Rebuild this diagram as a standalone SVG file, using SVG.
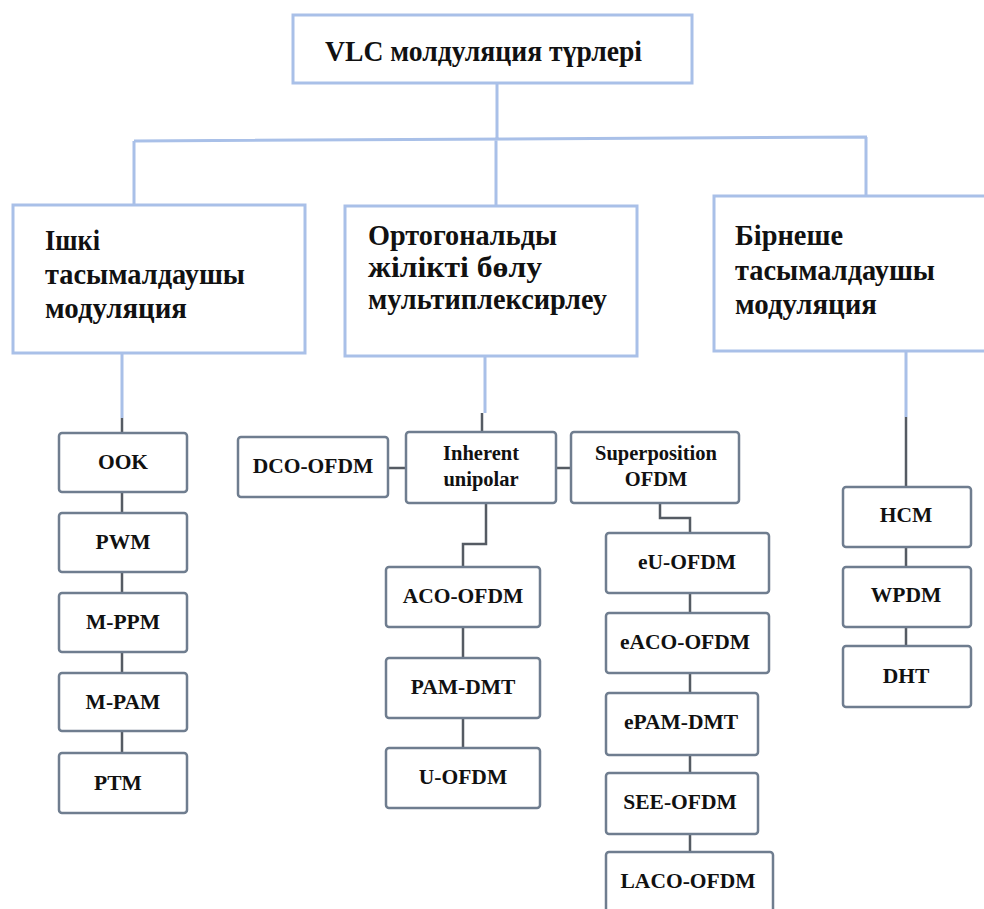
<svg xmlns="http://www.w3.org/2000/svg" width="984" height="909" viewBox="0 0 984 909">
<style>
.big{fill:#fff;stroke:#a9c0e8;stroke-width:3}
.sm{fill:#fff;stroke:#6f7d8f;stroke-width:2.5}
.bl{fill:none;stroke:#a9c0e8;stroke-width:3}
.gr{fill:none;stroke:#555b63;stroke-width:2.5}
.t{font-weight:bold;fill:#111}
.h{font-size:30px}
.s{font-size:21.5px;text-anchor:middle}
.u{font-size:20.5px;text-anchor:middle}
</style>
<rect width="984" height="909" fill="#fff"/>
<g id="connectors">
<path class="bl" d="M497 83V140M134 141L867 137M134 141V205M496 139V206M866 137V196"/>
<path class="bl" d="M122 353V418M485 356V413M906 351V417"/>
<path class="gr" d="M122 418V433M122 492V513M122 572V593M122 652V673M122 731V753"/>
<path class="gr" d="M482 413V432M388 468H406M556 468H571"/>
<path class="gr" d="M486 503V544H463V567M463 627V658M463 718V748"/>
<path class="gr" d="M660 503V518H690V533M690 593V613M690 673V693M690 755V773M690 834V852"/>
<path class="gr" d="M906 417V487M906 547V567M906 627V646"/>
</g>
<g font-family="'Liberation Serif', 'DejaVu Serif', serif">
<g id="n-root"><rect class="big" x="293" y="15" width="399" height="68"/><text class="t h" x="325" y="61" textLength="317" lengthAdjust="spacingAndGlyphs">VLC молдуляция түрлері</text></g>
<g id="n-inner"><rect class="big" x="13" y="205" width="292" height="148"/>
<text class="t h" x="45" y="250" textLength="55" lengthAdjust="spacingAndGlyphs">Ішкі</text>
<text class="t h" x="45" y="284" textLength="200" lengthAdjust="spacingAndGlyphs">тасымалдаушы</text>
<text class="t h" x="45" y="318" textLength="142" lengthAdjust="spacingAndGlyphs">модуляция</text></g>
<g id="n-ofdm"><rect class="big" x="345" y="206" width="292" height="150"/>
<text class="t h" x="368" y="245" textLength="189" lengthAdjust="spacingAndGlyphs">Ортогональды</text>
<text class="t h" x="368" y="277" textLength="174" lengthAdjust="spacingAndGlyphs">жілікті бөлу</text>
<text class="t h" x="368" y="309" textLength="239" lengthAdjust="spacingAndGlyphs">мультиплексирлеу</text></g>
<g id="n-multi"><rect class="big" x="714" y="196" width="290" height="155"/>
<text class="t h" x="735" y="245" textLength="108" lengthAdjust="spacingAndGlyphs">Бірнеше</text>
<text class="t h" x="735" y="280" textLength="200" lengthAdjust="spacingAndGlyphs">тасымалдаушы</text>
<text class="t h" x="735" y="314" textLength="142" lengthAdjust="spacingAndGlyphs">модуляция</text></g>
<g id="n-ook"><rect class="sm" x="59" y="433" width="128" height="59" rx="3"/><text class="t s" x="123" y="469">OOK</text></g>
<g id="n-pwm"><rect class="sm" x="59" y="513" width="128" height="59" rx="3"/><text class="t s" x="123" y="549">PWM</text></g>
<g id="n-mppm"><rect class="sm" x="59" y="593" width="128" height="59" rx="3"/><text class="t s" x="123" y="629">M-PPM</text></g>
<g id="n-mpam"><rect class="sm" x="59" y="673" width="128" height="58" rx="3"/><text class="t s" x="123" y="709">M-PAM</text></g>
<g id="n-ptm"><rect class="sm" x="59" y="753" width="128" height="60" rx="3"/><text class="t s" x="118" y="790">PTM</text></g>
<g id="n-dco"><rect class="sm" x="238" y="437" width="150" height="60" rx="3"/><text class="t s" x="313" y="473">DCO-OFDM</text></g>
<g id="n-inh"><rect class="sm" x="406" y="432" width="150" height="71" rx="3"/><text class="t u" x="481" y="460">Inherent</text><text class="t u" x="481" y="486">unipolar</text></g>
<g id="n-sup"><rect class="sm" x="571" y="432" width="168" height="71" rx="3"/><text class="t u" x="656" y="460">Superposition</text><text class="t u" x="656" y="486">OFDM</text></g>
<g id="n-aco"><rect class="sm" x="386" y="567" width="154" height="60" rx="3"/><text class="t s" x="463" y="603">ACO-OFDM</text></g>
<g id="n-pamdmt"><rect class="sm" x="386" y="658" width="154" height="60" rx="3"/><text class="t s" x="463" y="694">PAM-DMT</text></g>
<g id="n-uofdm"><rect class="sm" x="386" y="748" width="154" height="60" rx="3"/><text class="t s" x="463" y="784">U-OFDM</text></g>
<g id="n-eu"><rect class="sm" x="606" y="533" width="163" height="60" rx="3"/><text class="t s" x="687" y="569">eU-OFDM</text></g>
<g id="n-eaco"><rect class="sm" x="606" y="613" width="163" height="60" rx="3"/><text class="t s" x="685" y="649">eACO-OFDM</text></g>
<g id="n-epam"><rect class="sm" x="606" y="693" width="152" height="62" rx="3"/><text class="t s" x="681" y="729">ePAM-DMT</text></g>
<g id="n-see"><rect class="sm" x="606" y="773" width="152" height="61" rx="3"/><text class="t s" x="680" y="809">SEE-OFDM</text></g>
<g id="n-laco"><rect class="sm" x="606" y="852" width="167" height="70" rx="3"/><text class="t s" x="688" y="888">LACO-OFDM</text></g>
<g id="n-hcm"><rect class="sm" x="843" y="487" width="128" height="60" rx="3"/><text class="t s" x="906" y="522">HCM</text></g>
<g id="n-wpdm"><rect class="sm" x="843" y="567" width="128" height="60" rx="3"/><text class="t s" x="906" y="602">WPDM</text></g>
<g id="n-dht"><rect class="sm" x="843" y="646" width="128" height="61" rx="3"/><text class="t s" x="906" y="683">DHT</text></g>
</g>
</svg>
